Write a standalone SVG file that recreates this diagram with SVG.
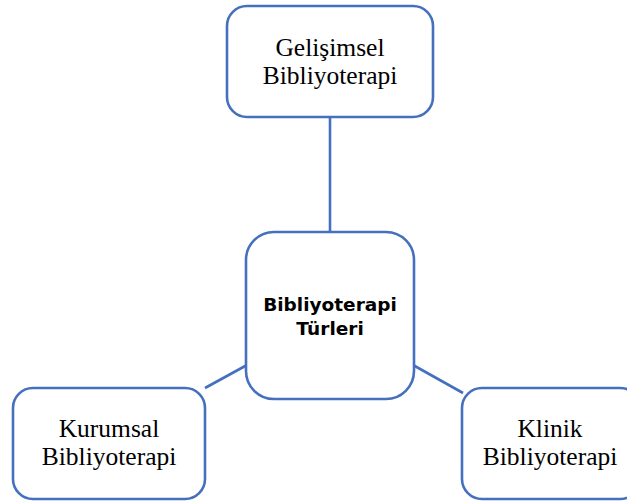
<svg xmlns="http://www.w3.org/2000/svg" width="627" height="503" viewBox="0 0 627 503">
<style>
.box{fill:#ffffff;stroke:#4470BE;stroke-width:2.6}
.conn{stroke:#4470BE;stroke-width:2.6;fill:none}
.t{font-family:"Liberation Serif","Times New Roman",serif;font-size:25.5px;fill:#000;text-anchor:middle}
.b{font-family:"DejaVu Sans",Verdana,sans-serif;font-weight:bold;font-size:18.5px;fill:#000;text-anchor:middle}
</style>
<rect width="627" height="503" fill="#ffffff"/>
<g id="connectors">
<line class="conn" x1="330" y1="117" x2="330" y2="232"/>
<line class="conn" x1="205" y1="388" x2="247" y2="365"/>
<line class="conn" x1="413" y1="365" x2="463" y2="393"/>
</g>
<g id="node-gelisimsel">
<rect class="box" x="227" y="6" width="206" height="111" rx="20"/>
<text class="t" x="330" y="56">Gelişimsel</text>
<text class="t" x="330" y="84">Bibliyoterapi</text>
</g>
<g id="node-center">
<rect class="box" x="246" y="232" width="168" height="167" rx="28"/>
<text class="b" x="330" y="311">Bibliyoterapi</text>
<text class="b" x="330" y="335">Türleri</text>
</g>
<g id="node-kurumsal">
<rect class="box" x="13" y="388" width="192" height="111" rx="20"/>
<text class="t" x="109" y="437">Kurumsal</text>
<text class="t" x="109" y="465">Bibliyoterapi</text>
</g>
<g id="node-klinik">
<rect class="box" x="462" y="388" width="178" height="111" rx="20"/>
<text class="t" x="550" y="437">Klinik</text>
<text class="t" x="550" y="465">Bibliyoterapi</text>
</g>
</svg>
